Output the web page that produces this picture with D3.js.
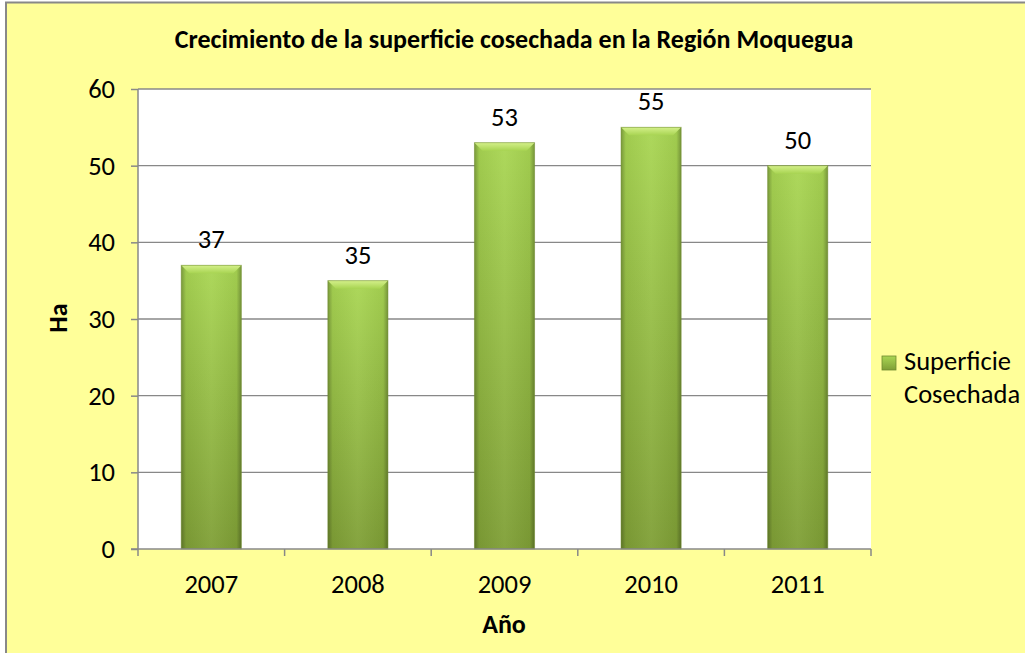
<!DOCTYPE html>
<html><head><meta charset="utf-8">
<script src="https://cdn.jsdelivr.net/npm/d3@7"></script>
<style>body{margin:0;background:#fff}svg{display:block}text{font-family:Carlito,Lato,"Open Sans",sans-serif}</style>
</head><body>
<svg id="c" width="1025" height="653"></svg>
<script>
const categories = ["2007","2008","2009","2010","2011"];
const values = [37,35,53,55,50];
const yTicks = [0,10,20,30,40,50,60];
const seriesName = ["Superficie","Cosechada"];
const title = "Crecimiento de la superficie cosechada en la Región Moquegua";

const svg = d3.select("#c");
const W=1025,H=653;
const L=138,R=871,T=89,B=549;
const FS=26.5;
svg.append("rect").attr("x",6).attr("y",2.5).attr("width",W+10).attr("height",H+10)
  .attr("fill","#FFFF99").attr("stroke","#888").attr("stroke-width",2);
svg.append("rect").attr("x",L).attr("y",T).attr("width",R-L).attr("height",B-T).attr("fill","#fff");

const defs = svg.append("defs");
const gv = defs.append("linearGradient").attr("id","gv").attr("x1",0).attr("y1",0).attr("x2",0).attr("y2",1);
gv.append("stop").attr("offset","0%").attr("stop-color","#a9d653");
gv.append("stop").attr("offset","100%").attr("stop-color","#7f9f36");
const gh = defs.append("linearGradient").attr("id","gh").attr("x1",0).attr("y1",0).attr("x2",1).attr("y2",0);
gh.append("stop").attr("offset","0%").attr("stop-color","#000").attr("stop-opacity",0.28);
gh.append("stop").attr("offset","8%").attr("stop-color","#000").attr("stop-opacity",0.05);
gh.append("stop").attr("offset","50%").attr("stop-color","#fff").attr("stop-opacity",0.05);
gh.append("stop").attr("offset","92%").attr("stop-color","#000").attr("stop-opacity",0.05);
gh.append("stop").attr("offset","100%").attr("stop-color","#000").attr("stop-opacity",0.3);
const gt = defs.append("linearGradient").attr("id","gt").attr("x1",0).attr("y1",0).attr("x2",0).attr("y2",1);
gt.append("stop").attr("offset","0%").attr("stop-color","#d4f08a");
gt.append("stop").attr("offset","100%").attr("stop-color","#a8d452");

const x = d3.scaleBand().domain(categories).range([L,R]).paddingInner(0.59).paddingOuter(0.295);
const xb = d3.scaleBand().domain(categories).range([L,R]);
const y = d3.scaleLinear().domain([0,60]).range([B,T]);

// gridlines
svg.append("g").selectAll("line").data(yTicks.filter(d=>d>0)).join("line")
  .attr("x1",L).attr("x2",R).attr("y1",d=>y(d)).attr("y2",d=>y(d))
  .attr("stroke","#888").attr("stroke-width",1.3);

// bars
const bars = svg.append("g").selectAll("g").data(values).join("g");
bars.append("rect").attr("x",(d,i)=>x(categories[i])).attr("y",d=>y(d))
  .attr("width",x.bandwidth()).attr("height",d=>B-y(d)).attr("fill","url(#gv)");
bars.append("rect").attr("x",(d,i)=>x(categories[i])).attr("y",d=>y(d))
  .attr("width",x.bandwidth()).attr("height",d=>B-y(d)).attr("fill","url(#gh)");
bars.append("path").attr("d",(d,i)=>{
  const x0=x(categories[i]),x1=x0+x.bandwidth(),y0=y(d),b=8;
  return `M${x0},${y0}L${x1},${y0}L${x1-b},${y0+b}L${x0+b},${y0+b}Z`;
}).attr("fill","url(#gt)");
bars.append("rect").attr("x",(d,i)=>x(categories[i])).attr("y",d=>y(d))
  .attr("width",x.bandwidth()).attr("height",d=>B-y(d)).attr("fill","none")
  .attr("stroke","#6e8a2e").attr("stroke-opacity",0.5).attr("stroke-width",1);

// value labels
svg.append("g").selectAll("text").data(values).join("text")
  .attr("x",(d,i)=>x(categories[i])+x.bandwidth()/2).attr("y",d=>y(d)-17)
  .attr("text-anchor","middle").attr("font-size",FS).attr("fill","#000").text(d=>d);

// y axis
const ya = svg.append("g").attr("transform",`translate(${L},0)`)
  .call(d3.axisLeft(y).tickValues(yTicks).tickSize(7).tickPadding(16).tickFormat(d3.format("d")));
ya.select(".domain").attr("stroke","#888").attr("stroke-width",1.5).attr("d",`M0,${T}V${B}`);
ya.selectAll(".tick line").attr("stroke","#888").attr("stroke-width",1.5);
ya.selectAll(".tick text").attr("font-size",FS).attr("fill","#000").attr("font-family","Carlito,Lato,sans-serif");

// x axis
const xa = svg.append("g").attr("transform",`translate(0,${B})`)
  .call(d3.axisBottom(xb).tickSize(0).tickPadding(25));
xa.select(".domain").attr("stroke","#888").attr("stroke-width",1.5).attr("d",`M${L-7},0H${R}`);
xa.selectAll(".tick text").attr("font-size",FS).attr("fill","#000").attr("font-family","Carlito,Lato,sans-serif");
svg.append("g").selectAll("line").data(categories.concat(["end"])).join("line")
  .attr("x1",(d,i)=>i<categories.length?xb(d):R).attr("x2",(d,i)=>i<categories.length?xb(d):R)
  .attr("y1",B).attr("y2",B+7).attr("stroke","#888").attr("stroke-width",1.5);

// titles
svg.append("text").attr("x",514).attr("y",48).attr("text-anchor","middle")
  .attr("font-size",26).attr("font-weight","bold").text(title);
svg.append("text").attr("x",504).attr("y",633).attr("text-anchor","middle")
  .attr("font-size",26).attr("font-weight","bold").text("Año");
svg.append("text").attr("transform","translate(67,318) rotate(-90)").attr("text-anchor","middle")
  .attr("font-size",26).attr("font-weight","bold").text("Ha");

// legend
svg.append("rect").attr("x",882).attr("y",356).attr("width",14).attr("height",14).attr("fill","url(#gv)").attr("stroke","#6e8a2e").attr("stroke-width",0.8);
svg.append("text").attr("x",904).attr("y",370).attr("font-size",FS).text(seriesName[0]);
svg.append("text").attr("x",904).attr("y",403).attr("font-size",FS).text(seriesName[1]);
</script>
</body></html>
